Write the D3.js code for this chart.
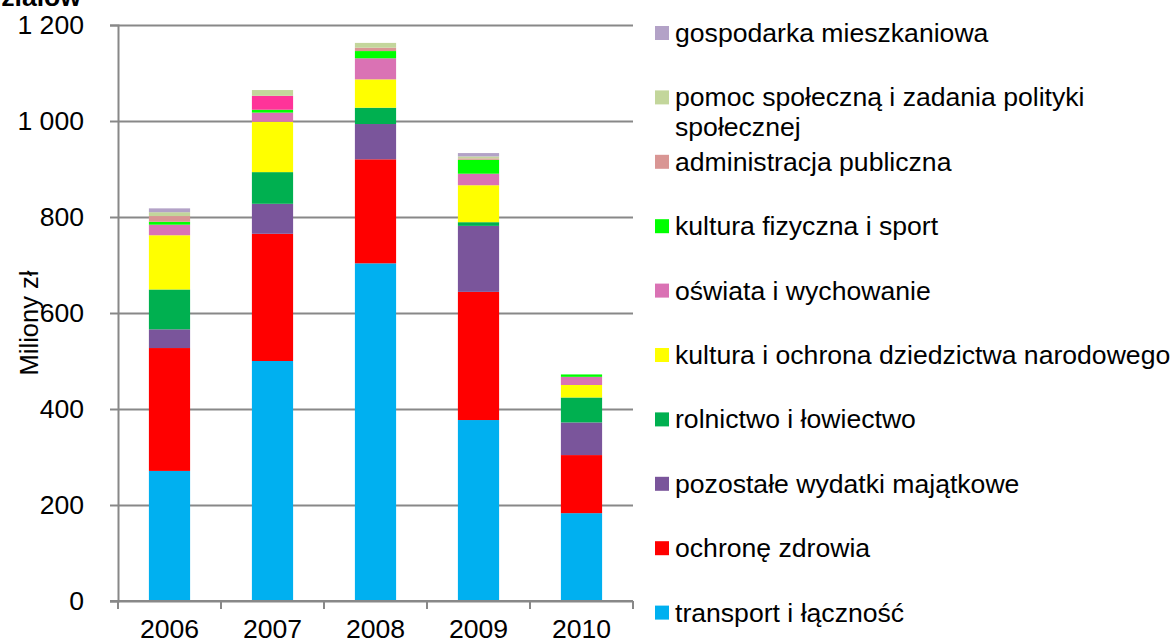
<!DOCTYPE html>
<html>
<head>
<meta charset="utf-8">
<script src="https://cdn.jsdelivr.net/npm/d3@7/dist/d3.min.js"></script>
<style>
  html, body { margin: 0; padding: 0; background: #fff; }
  svg { display: block; font-family: "Liberation Sans", Arial, sans-serif; }
</style>
</head>
<body>
<svg id="chart" width="1174" height="644"></svg>
<script>
// Years on the category axis
const years = ["2006", "2007", "2008", "2009", "2010"];

// Series, listed from the bottom of each stack upwards (values in mln zł)
const transport   = [271, 500, 703.5, 377, 183];
const zdrowie     = [256, 265, 216.7, 267, 121];
const pozostale   = [39, 62.5, 73.5, 137.5, 68];
const rolnictwo   = [83, 66, 34, 7.7, 52];
const kultura     = [113, 105, 59, 77, 26];
const oswiata     = [22, 19, 44, 24, 17];
const sport       = [6, 6, 15, 29, 5];
const administr   = [12, 29, 7, 3, 0];
const pomoc       = [8, 12, 10, 4, 0];
const gospodarka  = [8, 0, 0, 7, 0];

const seriesNames = [
  "transport i łączność",
  "ochronę zdrowia",
  "pozostałe wydatki majątkowe",
  "rolnictwo i łowiectwo",
  "kultura i ochrona dziedzictwa narodowego",
  "oświata i wychowanie",
  "kultura fizyczna i sport",
  "administracja publiczna",
  "pomoc społeczną i zadania polityki społecznej",
  "gospodarka mieszkaniowa"
];
const seriesValues = [transport, zdrowie, pozostale, rolnictwo, kultura, oswiata, sport, administr, pomoc, gospodarka];
const seriesColors = ["#00B0F0", "#FF0000", "#7A559B", "#00B050", "#FFFF00", "#DA72B4", "#00FF00", "#D99694", "#C3D69B", "#B3A2C7"];
// Single data point drawn in its own colour
const pointColorOverrides = { "administracja publiczna": { "2007": "#FF3399" } };

const yTicks = [0, 200, 400, 600, 800, 1000, 1200];
const yTitle = "Miliony zł";
const titleTail = "działów";

// Build row objects for d3.stack
const rows = years.map((y, i) => {
  const r = { year: y };
  seriesNames.forEach((n, k) => { r[n] = seriesValues[k][i]; });
  return r;
});

const svg = d3.select("#chart");
const plot = { left: 118, right: 633, top: 25, bottom: 601 };
const fontSize = 26.6;

const x = d3.scaleBand().domain(years).range([plot.left, plot.right]).paddingInner(0.6).paddingOuter(0.3);
const xOuter = d3.scaleBand().domain(years).range([plot.left, plot.right]);
const y = d3.scaleLinear().domain([0, 1200]).range([plot.bottom, plot.top]);

const fmt = d3.formatLocale({ decimal: ",", thousands: " ", grouping: [3], currency: ["", " zł"] }).format(",");

const gridColor = "#888888";

// Horizontal gridlines with short ticks left of the axis
const yAxis = d3.axisLeft(y).tickValues(yTicks).tickSize(8).tickPadding(26).tickFormat(fmt);
const gy = svg.append("g").attr("transform", `translate(${plot.left},0)`).call(yAxis);
gy.select(".domain").attr("stroke", gridColor).attr("stroke-width", 2);
gy.selectAll(".tick line").attr("stroke", gridColor).attr("stroke-width", 2);
gy.selectAll(".tick").append("line")
  .attr("x1", 0).attr("x2", plot.right - plot.left)
  .attr("stroke", gridColor).attr("stroke-width", 2);
gy.selectAll(".tick text").attr("font-size", fontSize).attr("fill", "#000")
  .attr("font-family", "'Liberation Sans', Arial, sans-serif");

// Stacked columns
const stack = d3.stack().keys(seriesNames);
const layers = stack(rows);
svg.append("g").selectAll("g")
  .data(layers)
  .join("g")
  .each(function (layer, k) {
    d3.select(this).selectAll("rect")
      .data(layer)
      .join("rect")
      .attr("x", d => x(d.data.year))
      .attr("width", x.bandwidth())
      .attr("y", d => y(d[1]))
      .attr("height", d => Math.max(0, y(d[0]) - y(d[1])))
      .attr("fill", d => {
        const o = pointColorOverrides[layer.key];
        return (o && o[d.data.year]) || seriesColors[k];
      });
  });

// Category axis with ticks between the columns
const gx = svg.append("g").attr("transform", `translate(0,${plot.bottom})`);
gx.append("line").attr("x1", plot.left - 8).attr("x2", plot.right)
  .attr("stroke", gridColor).attr("stroke-width", 2);
const bounds = years.map(yv => xOuter(yv)).concat([plot.right]);
gx.selectAll("line.tk").data(bounds).join("line").attr("class", "tk")
  .attr("x1", d => d).attr("x2", d => d).attr("y1", 0).attr("y2", 8)
  .attr("stroke", gridColor).attr("stroke-width", 2);
gx.selectAll("text").data(years).join("text")
  .attr("x", d => xOuter(d) + xOuter.bandwidth() / 2)
  .attr("y", 37)
  .attr("text-anchor", "middle")
  .attr("font-size", fontSize)
  .text(d => d);

// Vertical axis title
svg.append("text")
  .attr("transform", `translate(38,${(plot.top + plot.bottom) / 2 + 10}) rotate(-90)`)
  .attr("text-anchor", "middle")
  .attr("font-size", 25.5)
  .text(yTitle);

// Chart title (its last line)
svg.append("text")
  .attr("x", 81).attr("y", 6)
  .attr("text-anchor", "end")
  .attr("font-size", fontSize).attr("font-weight", "bold")
  .text(titleTail);

// Legend, top entry is the top of the stack
const legend = svg.append("g");
const legendItems = seriesNames.map((n, k) => ({ name: n, color: seriesColors[k] })).reverse();
const legendStep = 64.4, legendY0 = 33, maxTextW = 500;
legendItems.forEach((it, i) => {
  const cy = legendY0 + i * legendStep;
  const g = legend.append("g");
  g.append("rect").attr("x", 655).attr("y", cy - 7).attr("width", 14).attr("height", 14).attr("fill", it.color);
  const t = g.append("text").attr("x", 675).attr("y", cy + 9).attr("font-size", fontSize);
  // wrap long labels
  const words = it.name.split(" ");
  let line = [];
  let tspan = t.append("tspan").attr("x", 675).attr("dy", 0);
  words.forEach(w => {
    line.push(w);
    tspan.text(line.join(" "));
    if (tspan.node().getComputedTextLength() > maxTextW && line.length > 1) {
      line.pop();
      tspan.text(line.join(" "));
      line = [w];
      tspan = t.append("tspan").attr("x", 675).attr("dy", 30).text(w);
    }
  });
});
</script>
</body>
</html>
